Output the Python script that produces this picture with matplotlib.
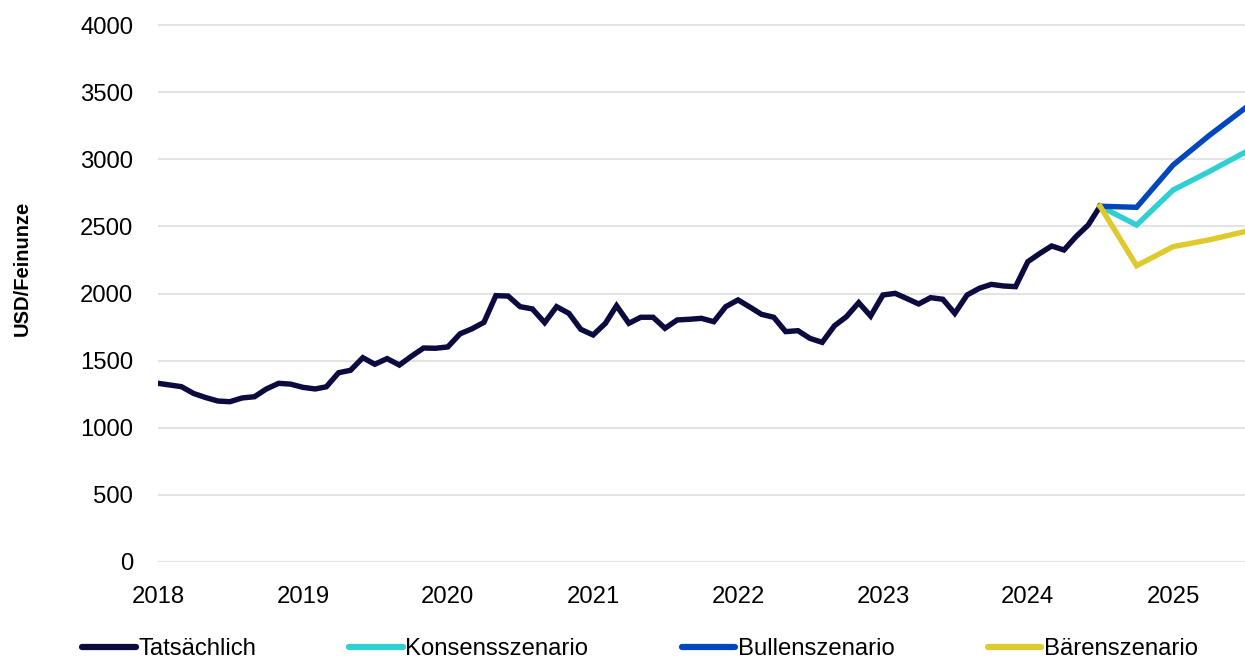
import matplotlib
matplotlib.use("Agg")
import matplotlib.pyplot as plt
import matplotlib.dates as mdates
import pandas as pd

# ---- data ----
actual_start = "2018-01-01"
actual_values = [
    1331, 1318, 1306, 1255, 1225, 1199, 1194, 1222, 1231, 1289, 1331, 1325,
    1301, 1289, 1305, 1410, 1428, 1522, 1473, 1515, 1467, 1532, 1594, 1592,
    1602, 1700, 1736, 1785, 1984, 1981, 1902, 1885, 1783, 1902, 1852, 1733,
    1691, 1778, 1909, 1778, 1823, 1823, 1741, 1803, 1808, 1815, 1790, 1902,
    1952, 1897, 1845, 1823, 1716, 1723, 1666, 1636, 1760, 1827, 1932, 1832,
    1989, 2001, 1964, 1922, 1969, 1957, 1852, 1989, 2039, 2068, 2056, 2051,
    2237, 2300, 2354, 2324, 2423, 2510, 2650,
]
scenario_dates = ["2024-07-01", "2024-10-01", "2025-01-01", "2025-04-01", "2025-07-01"]
consensus_values = [2650, 2510, 2771, 2907, 3052]
bull_values = [2650, 2642, 2957, 3175, 3380]
bear_values = [2650, 2207, 2349, 2399, 2461]
year_ticks = [2018, 2019, 2020, 2021, 2022, 2023, 2024, 2025]
y_ticks = [0, 500, 1000, 1500, 2000, 2500, 3000, 3500, 4000]
labels = ["Tatsächlich", "Konsensszenario", "Bullenszenario", "Bärenszenario"]
colors = ["#0b0b3f", "#2fcfd3", "#0047bb", "#e0c92c"]
ylabel = "USD/Feinunze"

actual_dates = pd.date_range(actual_start, periods=len(actual_values), freq="MS")
sc_dates = pd.to_datetime(scenario_dates)

W, H = 1245, 662
fig = plt.figure(figsize=(W / 100, H / 100), dpi=100)
plt.rcParams["font.family"] = ["Liberation Sans", "DejaVu Sans"]

ymax = 4050
px_per = 537 / 4000
top_px = 25 - (ymax - 4000) * px_per
ax = fig.add_axes([158 / W, 1 - 562 / H, 1 - 158 / W, (562 - top_px) / H])

lw = 3.9
l1, = ax.plot(actual_dates, actual_values, color=colors[0], lw=lw, solid_joinstyle="miter", zorder=3)
l2, = ax.plot(sc_dates, consensus_values, color=colors[1], lw=lw, solid_joinstyle="miter", zorder=3)
l3, = ax.plot(sc_dates, bull_values, color=colors[2], lw=lw, solid_joinstyle="miter", zorder=3)
l4, = ax.plot(sc_dates, bear_values, color=colors[3], lw=lw, solid_joinstyle="miter", zorder=3)

ax.set_xlim(pd.Timestamp("2018-01-01"), pd.Timestamp("2025-07-01"))
ax.set_ylim(0, ymax)
ax.set_yticks(y_ticks)
ax.set_xticks([pd.Timestamp(f"{y}-01-01") for y in year_ticks])
ax.xaxis.set_major_formatter(mdates.DateFormatter("%Y"))

ax.grid(axis="y", color="#e3e3e3", lw=1.5, zorder=0)
ax.set_axisbelow(True)
for s in ax.spines.values():
    s.set_visible(False)
ax.tick_params(axis="both", length=0, labelsize=17.2, colors="#000000")
ax.tick_params(axis="y", pad=18)
ax.tick_params(axis="x", pad=17)

fig.text(22 / W, 1 - 268 / H, ylabel, rotation=90, ha="center", va="center",
         fontsize=14.5, fontweight="bold")

leg = fig.legend([l1, l2, l3, l4], labels, loc="center", bbox_to_anchor=(640 / W, 1 - 649 / H),
                 ncol=4, frameon=False, fontsize=17.2, handlelength=2.25, handletextpad=0.1,
                 columnspacing=3.9, borderpad=0, borderaxespad=0)
for h in leg.get_lines():
    h.set_linewidth(4.5)
    h.set_solid_capstyle("round")

fig.savefig("out.png", dpi=100)
